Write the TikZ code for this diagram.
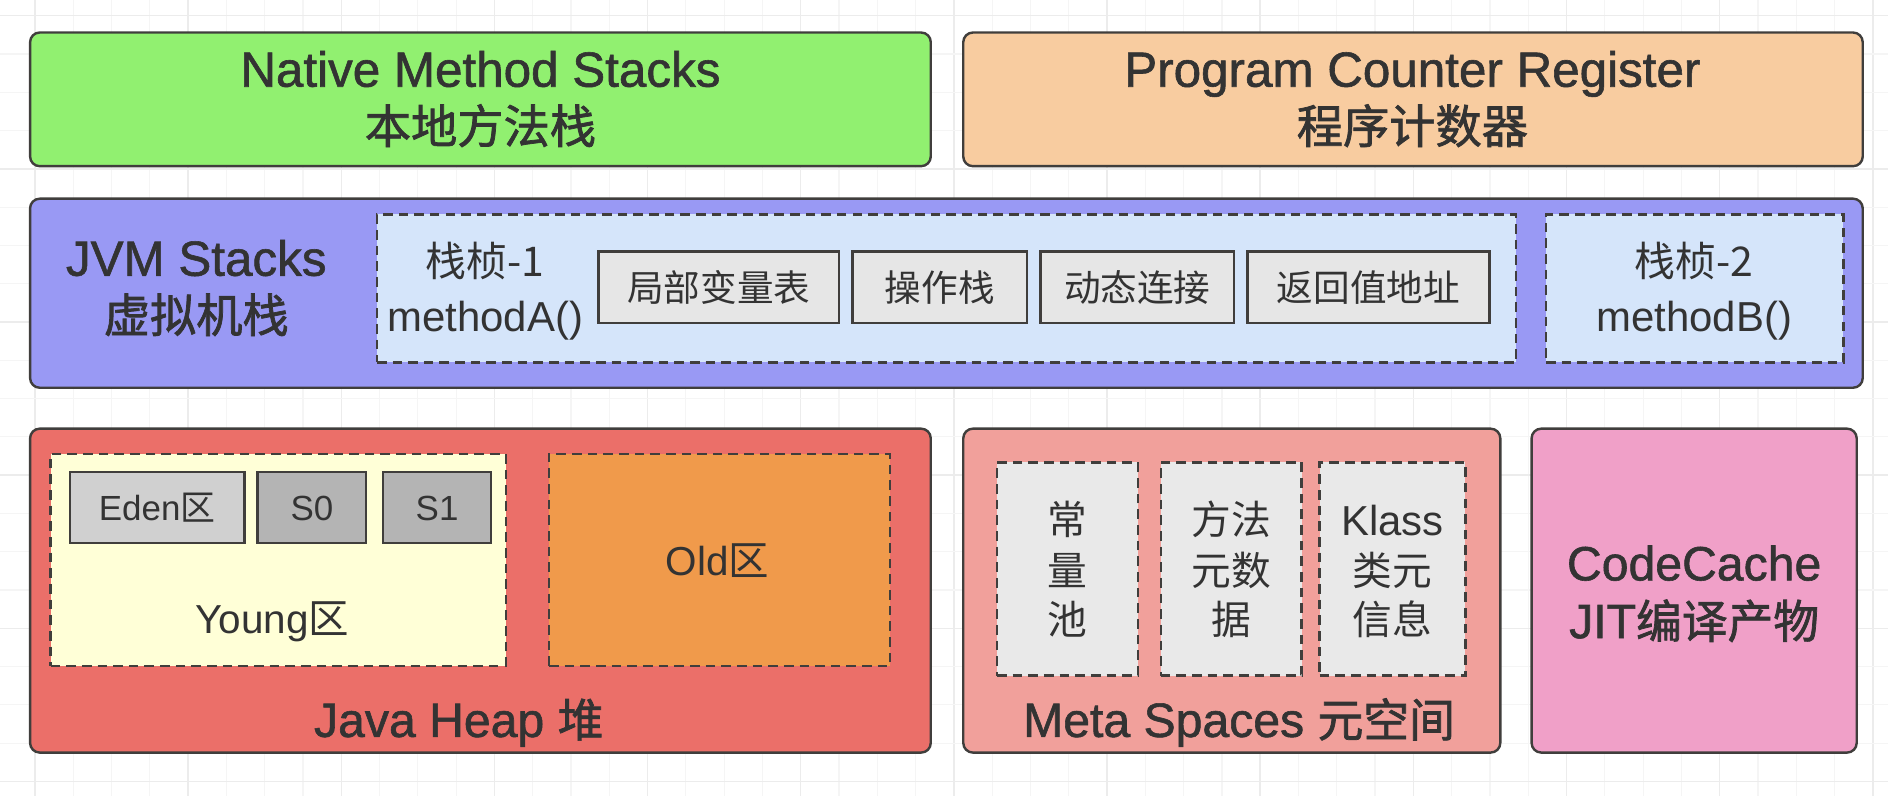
\documentclass[tikz,border=0pt]{standalone}
\usepackage{fontspec}
\setmainfont{Liberation Sans}
\newfontfamily\latm[FakeBold=1.2]{Liberation Sans}
\newfontfamily\cjkf{Noto Sans CJK SC}
\newfontfamily\cjkm[FakeBold=1.6]{Noto Sans CJK SC}
\usetikzlibrary{fit}
\definecolor{cNative}{RGB}{145,240,112}
\definecolor{cPC}{RGB}{248,204,160}
\definecolor{cJVM}{RGB}{153,153,244}
\definecolor{cFrame}{RGB}{213,229,250}
\definecolor{cInner}{RGB}{230,230,230}
\definecolor{cHeap}{RGB}{235,111,105}
\definecolor{cYoung}{RGB}{255,255,215}
\definecolor{cOld}{RGB}{240,154,75}
\definecolor{cEden}{RGB}{208,208,208}
\definecolor{cSurv}{RGB}{180,180,180}
\definecolor{cMeta}{RGB}{241,160,155}
\definecolor{cMetaIn}{RGB}{233,233,233}
\definecolor{cCode}{RGB}{240,160,200}
\definecolor{cBorder}{RGB}{64,62,60}
\definecolor{cText}{RGB}{51,51,51}
\definecolor{cGridMinor}{RGB}{245,245,245}
\definecolor{cGridMajor}{RGB}{236,236,236}
\tikzset{
  panel/.style={draw=cBorder, line width=1pt, rounded corners=4pt, inner sep=0pt},
  dbox/.style={draw=cBorder, line width=1pt, dash pattern=on 4pt off 2.5pt, inner sep=0pt},
  sbox/.style={draw=cBorder, line width=1pt, inner sep=0pt},
  lbl/.style={inner sep=0pt, anchor=base, text=cText},
  tEn/.style={lbl, font=\latm\fontsize{20.5}{24}\selectfont},
  tCn/.style={lbl, font=\cjkm\fontsize{19.2}{24}\selectfont},
  mEn/.style={lbl, font=\fontsize{17.4}{21}\selectfont},
  mCn/.style={lbl, font=\cjkf\fontsize{17}{21}\selectfont},
  sCn/.style={lbl, font=\cjkf\fontsize{15.2}{18}\selectfont},
  sEn/.style={lbl, font=\fontsize{14.5}{18}\selectfont},
  yEn/.style={lbl, font=\fontsize{16.8}{20}\selectfont},
  hEn/.style={lbl, font=\latm\fontsize{20}{24}\selectfont},
  vCn/.style={lbl, font=\cjkf\fontsize{16.5}{20}\selectfont},
  vEn/.style={lbl, font=\fontsize{17.4}{20}\selectfont},
  gminor/.style={draw=cGridMinor, line width=0.5pt},
  gmajor/.style={draw=cGridMajor, line width=0.6pt},
}
\begin{document}
\begin{tikzpicture}[x=0.5pt, y=-0.5pt]
\useasboundingbox (0,0) rectangle (1568,661);
\fill[white] (0,0) rectangle (1568,661);
% background grid
\foreach \i in {0,...,48} {
  \pgfmathtruncatemacro{\m}{mod(\i,4)}
  \ifnum\m=0 \draw[gmajor] ({29+31.8*\i},0) -- ({29+31.8*\i},661);
  \else \draw[gminor] ({29+31.8*\i},0) -- ({29+31.8*\i},661); \fi
}
\foreach \j in {0,...,20} {
  \pgfmathtruncatemacro{\m}{mod(\j,4)}
  \ifnum\m=0 \draw[gmajor] (0,{13+31.8*\j}) -- (1568,{13+31.8*\j});
  \else \draw[gminor] (0,{13+31.8*\j}) -- (1568,{13+31.8*\j}); \fi
}

% top row
\node[panel, fill=cNative, fit={(25,27) (773,138)}] (native) {};
\node[tEn] (nativeEn) at (399,72) {Native Method Stacks};
\node[tCn] (nativeCn) at (399,119) {本地方法栈};

\node[panel, fill=cPC, fit={(800,27) (1547,138)}] (pc) {};
\node[tEn] (pcEn) at (1173,72) {Program Counter Register};
\node[tCn] (pcCn) at (1173,119) {程序计数器};

% JVM stacks
\node[panel, fill=cJVM, fit={(25,165) (1547,322)}] (jvm) {};
\node[tEn] (jvmEn) at (163,229) {JVM Stacks};
\node[tCn] (jvmCn) at (163,276) {虚拟机栈};

\node[dbox, fill=cFrame, fit={(313,178) (1259,301)}] (frame1) {};
\node[mCn] (f1a) at (403,230) {栈桢-1};
\node[mEn] (f1b) at (403,275) {methodA()};

\node[sbox, fill=cInner, fit={(497,209) (697,268)}] (locals) {};
\node[sCn] (localsT) at (597,250) {局部变量表};
\node[sbox, fill=cInner, fit={(708,209) (853,268)}] (opstack) {};
\node[sCn] (opstackT) at (780.5,250) {操作栈};
\node[sbox, fill=cInner, fit={(864,209) (1025,268)}] (dynlink) {};
\node[sCn] (dynlinkT) at (944.5,250) {动态连接};
\node[sbox, fill=cInner, fit={(1036,209) (1237,268)}] (retaddr) {};
\node[sCn] (retaddrT) at (1136.5,250) {返回值地址};

\node[dbox, fill=cFrame, fit={(1284,178) (1531,301)}] (frame2) {};
\node[mCn] (f2a) at (1407,230) {栈桢-2};
\node[mEn] (f2b) at (1407,275) {methodB()};

% Java heap
\node[panel, fill=cHeap, fit={(25,356) (773,625)}] (heap) {};
\node[dbox, fill=cYoung, fit={(42,377) (420,553)}] (young) {};
\node[sbox, fill=cEden, fit={(58,392) (203,451)}] (eden) {};
\node[sEn] (edenT) at (130.5,432) {Eden{\cjkf 区}};
\node[sbox, fill=cSurv, fit={(214,392) (304,451)}] (s0) {};
\node[sEn] (s0T) at (259,432) {S0};
\node[sbox, fill=cSurv, fit={(318,392) (408,451)}] (s1) {};
\node[sEn] (s1T) at (363,432) {S1};
\node[yEn] (youngT) at (226,526) {Young{\cjkf 区}};
\node[dbox, fill=cOld, fit={(456,377) (739,553)}] (old) {};
\node[yEn] (oldT) at (596,478) {Old{\cjkf 区}};
\node[hEn] (heapT) at (381,612) {Java Heap {\cjkm\fontsize{19}{24}\selectfont 堆}};

% Meta space
\node[panel, fill=cMeta, fit={(800,356) (1246,625)}] (meta) {};
\node[dbox, fill=cMetaIn, fit={(828,384) (945,561)}] (cpool) {};
\node[vCn] (cp1) at (886.5,444) {常};
\node[vCn] (cp2) at (886.5,486) {量};
\node[vCn] (cp3) at (886.5,527) {池};
\node[dbox, fill=cMetaIn, fit={(964,384) (1081,561)}] (mdata) {};
\node[vCn] (md1) at (1022.5,444) {方法};
\node[vCn] (md2) at (1022.5,486) {元数};
\node[vCn] (md3) at (1022.5,527) {据};
\node[dbox, fill=cMetaIn, fit={(1096,384) (1217,561)}] (klass) {};
\node[vEn] (kl1) at (1156.5,445) {Klass};
\node[vCn] (kl2) at (1156.5,486) {类元};
\node[vCn] (kl3) at (1156.5,527) {信息};
\node[hEn] (metaT) at (1029,612) {Meta Spaces {\cjkm\fontsize{19}{24}\selectfont 元空间}};

% Code cache
\node[panel, fill=cCode, fit={(1272,356) (1542,625)}] (code) {};
\node[hEn] (codeT1) at (1407,482) {CodeCache};
\node[hEn] (codeT2) at (1407,530) {JIT{\cjkm\fontsize{19}{24}\selectfont 编译产物}};
\end{tikzpicture}
\end{document}
